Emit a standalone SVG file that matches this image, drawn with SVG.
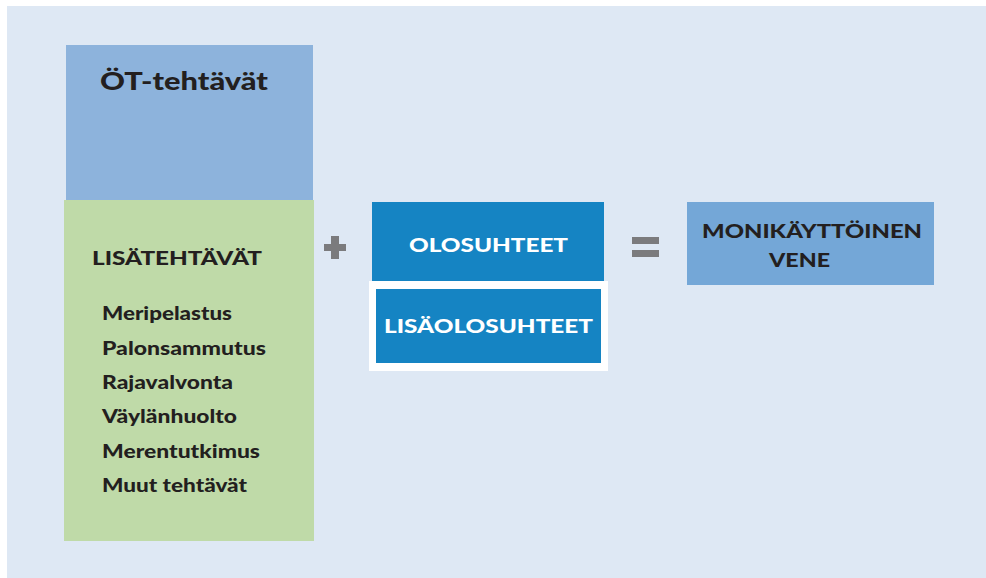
<svg xmlns="http://www.w3.org/2000/svg" width="986" height="578" viewBox="0 0 986 578">
  <style>
    text { font-family: Lato, "Open Sans", "Liberation Sans", sans-serif; font-weight: 900; fill: #231f20; }
    .cap { font-size: 19px; }
    .item { font-size: 18.5px; }
    .light { fill: #ffffff; }
    .op { fill: #7b7b7d; }
  </style>
  <rect x="0" y="0" width="986" height="578" fill="#ffffff"/>
  <rect x="7" y="6" width="979" height="572" fill="#dee8f4"/>

  <g id="ot-tehtavat">
    <rect x="66" y="45" width="247" height="156" fill="#8db3dc"/>
    <text x="100" y="90" font-size="25" textLength="168" lengthAdjust="spacingAndGlyphs">ÖT-tehtävät</text>
  </g>

  <g id="lisatehtavat">
    <rect x="64" y="200" width="250" height="341" fill="#bfdaa8"/>
    <text class="cap" x="92" y="265" textLength="170" lengthAdjust="spacingAndGlyphs">LISÄTEHTÄVÄT</text>
    <text class="item" x="102" y="320" textLength="130" lengthAdjust="spacingAndGlyphs">Meripelastus</text>
    <text class="item" x="102" y="355" textLength="164" lengthAdjust="spacingAndGlyphs">Palonsammutus</text>
    <text class="item" x="102" y="389" textLength="131" lengthAdjust="spacingAndGlyphs">Rajavalvonta</text>
    <text class="item" x="102" y="423" textLength="135" lengthAdjust="spacingAndGlyphs">Väylänhuolto</text>
    <text class="item" x="102" y="458" textLength="158" lengthAdjust="spacingAndGlyphs">Merentutkimus</text>
    <text class="item" x="102" y="492" textLength="145" lengthAdjust="spacingAndGlyphs">Muut tehtävät</text>
  </g>

  <g id="plus" class="op">
    <rect x="324" y="244" width="22" height="7"/>
    <rect x="331" y="236" width="8" height="23"/>
  </g>

  <g id="olosuhteet">
    <rect x="372" y="202" width="232" height="79" fill="#1584c3"/>
    <text class="cap light" x="409" y="252" textLength="159" lengthAdjust="spacingAndGlyphs">OLOSUHTEET</text>
  </g>

  <g id="lisaolosuhteet">
    <rect x="369" y="281" width="239" height="90" fill="#ffffff"/>
    <rect x="376" y="289" width="225" height="74" fill="#1584c3"/>
    <text class="cap light" x="384" y="333" textLength="209" lengthAdjust="spacingAndGlyphs">LISÄOLOSUHTEET</text>
  </g>

  <g id="equals" class="op">
    <rect x="632" y="237" width="27" height="7"/>
    <rect x="632" y="250" width="27" height="7"/>
  </g>

  <g id="monikayttoinen-vene">
    <rect x="687" y="202" width="247" height="83" fill="#74a7d7"/>
    <text class="cap" x="702" y="238" textLength="220" lengthAdjust="spacingAndGlyphs">MONIKÄYTTÖINEN</text>
    <text class="cap" x="769" y="267" textLength="61" lengthAdjust="spacingAndGlyphs">VENE</text>
  </g>
</svg>
